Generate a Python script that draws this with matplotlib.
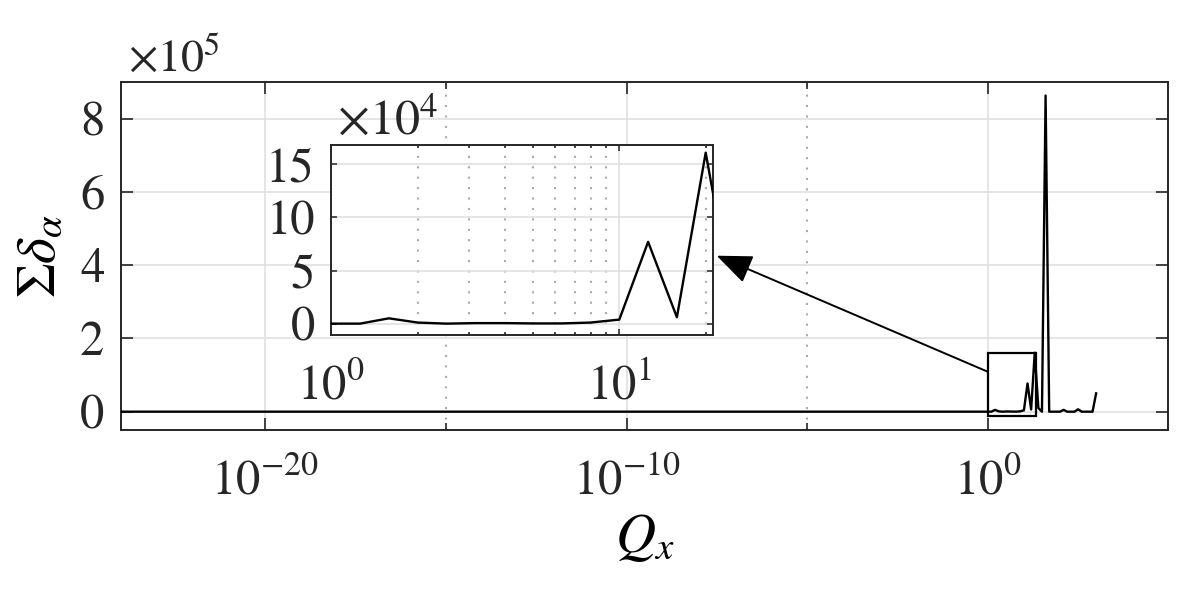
import numpy as np
import matplotlib
matplotlib.use('Agg')
import matplotlib.pyplot as plt
from matplotlib.ticker import FixedLocator, FuncFormatter, NullFormatter
from matplotlib.patches import Rectangle

# data (log10 of Qx, sum of delta_alpha)
log_qx = [-26, 0.0, 0.1, 0.2, 0.3, 0.4, 0.5, 0.6, 0.7, 0.8, 0.9,
          1.0, 1.1, 1.2, 1.3, 1.4, 1.5, 1.6, 1.7, 1.8, 1.9,
          2.0, 2.1, 2.2, 2.3, 2.4, 2.5, 2.6, 2.7, 2.8, 2.9, 3.0]
sum_delta = [0, 0, 0, 5000, 1000, 0, 500, 500, 200, 200, 1000,
             3800, 77000, 6000, 161000, 10000, 0, 863000, 0, 0, 0,
             0, 5000, 0, 0, 0, 6500, 0, 0, 0, 0, 50000]

main_xticks = [1e-20, 1e-10, 1e0]
main_xminor = [1e-15, 1e-5]
main_yticks = [0, 2e5, 4e5, 6e5, 8e5]
inset_xticks = [1, 10]
inset_xminor = [2, 3, 4, 5, 6, 7, 8, 9, 20]
inset_yticks = [0, 5e4, 10e4, 15e4]
inset_xlim = (1, 21.1)
inset_ylim = (-1.1e4, 1.685e5)
box_x = (1, 21.4)
box_y = (-1.3e4, 1.6e5)

qx = 10 ** np.array(log_qx)

txt = '#262626'
plt.rcParams['font.family'] = 'STIXGeneral'
plt.rcParams['mathtext.fontset'] = 'stix'
plt.rcParams['text.color'] = txt
plt.rcParams['axes.edgecolor'] = txt
plt.rcParams['xtick.color'] = txt
plt.rcParams['ytick.color'] = txt


def pow10(v, p):
    e = int(round(np.log10(v)))
    return r'$\mathdefault{10^{%d}}$' % e


fig = plt.figure(figsize=(11.96, 5.94), dpi=100)
ax = fig.add_axes([0.1012, 0.2761, 0.8757, 0.5859])
ax.plot(qx, sum_delta, color='black', lw=1.7, zorder=3)
ax.set_xscale('log')
ax.set_xlim(1e-24, 1e5)
ax.set_ylim(-0.5e5, 9e5)
ax.xaxis.set_major_locator(FixedLocator(main_xticks))
ax.xaxis.set_minor_locator(FixedLocator(main_xminor))
ax.xaxis.set_major_formatter(FuncFormatter(pow10))
ax.xaxis.set_minor_formatter(NullFormatter())
ax.set_yticks(main_yticks)
ax.yaxis.set_major_formatter(FuncFormatter(lambda v, p: f'{v/1e5:g}'))
ax.grid(True, which='major', color='#e0e0e0', lw=1.2, zorder=0)
ax.grid(True, which='minor', axis='x', color='#aaaaaa', lw=1.5, ls=(0, (1, 4)), zorder=0)
ax.tick_params(which='both', direction='in', top=True, right=True, labelsize=35, width=1.2)
ax.tick_params(which='major', length=8.5)
ax.tick_params(which='minor', length=5)
ax.tick_params(axis='x', pad=21)
ax.tick_params(axis='y', pad=12)
for s in ax.spines.values():
    s.set_linewidth(1.4)
ax.text(0.0064, 1.0296, r'$\times10^5$', transform=ax.transAxes, fontsize=33, va='baseline')
ax.set_xlabel(r'$Q_x$', fontsize=40)
ax.xaxis.set_label_coords(0.5, -0.235)
ax.set_ylabel(r'$\Sigma\delta_\alpha$', fontsize=40)
ax.yaxis.set_label_coords(-0.052, 0.5)

ax.add_patch(Rectangle((box_x[0], box_y[0]), box_x[1] - box_x[0], box_y[1] - box_y[0],
                       fill=False, ec='black', lw=1.6, zorder=4))

axin = fig.add_axes([0.277, 0.4355, 0.3189, 0.3209])
axin.plot(qx, sum_delta, color='black', lw=1.7, zorder=3)
axin.set_xscale('log')
axin.set_xlim(*inset_xlim)
axin.set_ylim(*inset_ylim)
axin.xaxis.set_major_locator(FixedLocator(inset_xticks))
axin.xaxis.set_minor_locator(FixedLocator(inset_xminor))
axin.xaxis.set_major_formatter(FuncFormatter(pow10))
axin.xaxis.set_minor_formatter(NullFormatter())
axin.set_yticks(inset_yticks)
axin.yaxis.set_major_formatter(FuncFormatter(lambda v, p: f'{v/1e4:g}'))
axin.grid(True, which='major', color='#e0e0e0', lw=1.2, zorder=0)
axin.grid(True, which='minor', axis='x', color='#aaaaaa', lw=1.5, ls=(0, (1, 4)), zorder=0)
axin.tick_params(which='both', direction='in', top=True, right=True, labelsize=35, width=1.1)
axin.tick_params(which='major', length=4)
axin.tick_params(which='minor', length=2.5)
axin.tick_params(axis='x', pad=21)
axin.tick_params(axis='y', pad=12)
for s in axin.spines.values():
    s.set_linewidth(1.4)
axin.text(0.015, 1.0546, r'$\times10^4$', transform=axin.transAxes, fontsize=36, va='baseline')

# arrow from the zoom box to the inset
ax.annotate('', xy=(1.0105, 0.4176), xycoords=axin.transAxes,
            xytext=(box_x[0], 1.09e5), textcoords='data',
            arrowprops=dict(arrowstyle='-|>,head_length=1.1,head_width=0.45',
                            mutation_scale=20, color='black', lw=1.4,
                            shrinkA=0, shrinkB=0), zorder=5)

plt.savefig('out.png', dpi=100)
